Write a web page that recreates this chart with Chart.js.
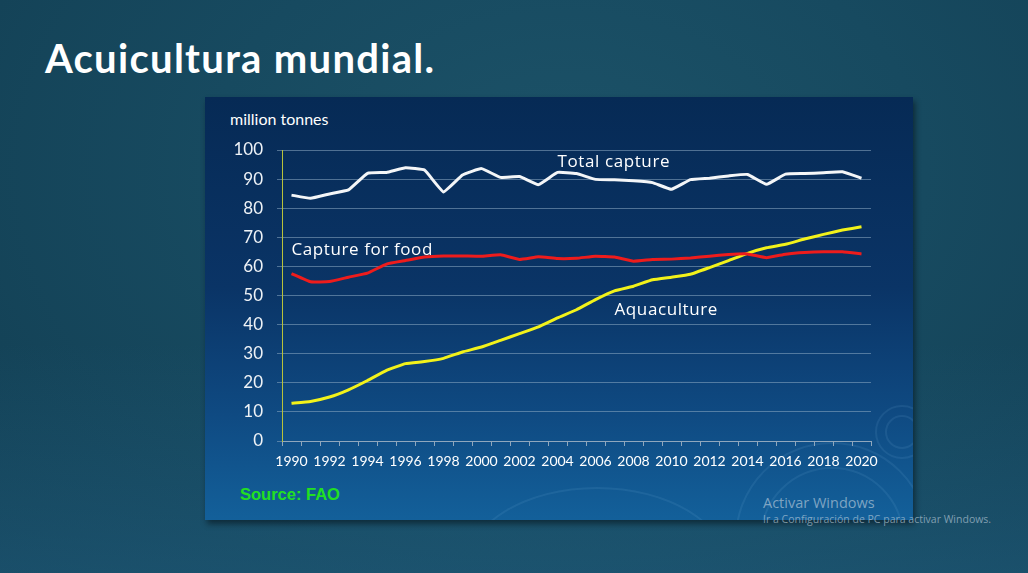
<!DOCTYPE html>
<html>
<head>
<meta charset="utf-8">
<script src="https://cdn.jsdelivr.net/npm/chart.js@4"></script>
<style>
  html, body { margin: 0; padding: 0; }
  body {
    width: 1028px; height: 573px; overflow: hidden; position: relative;
    background: radial-gradient(ellipse at 55% 30%, #1c5268 0%, #174a60 45%, #123e52 100%);
    font-family: Lato, "Open Sans", sans-serif;
  }
  #bottomglow {
    position: absolute; left: 0; top: 0; width: 1028px; height: 573px;
    background: linear-gradient(to bottom, rgba(0,0,0,0) 60%, rgba(40,110,150,0.35) 100%);
  }
  #title {
    position: absolute; left: 45px; top: 34px; margin: 0;
    color: #fff; font: bold 40px Lato, sans-serif; letter-spacing: 1.3px;
  }
  #panel {
    position: absolute; left: 205px; top: 97px; width: 708px; height: 423px;
    background: linear-gradient(to bottom, #062a55 0%, #0a3466 45%, #0f4a82 75%, #13609a 100%);
    box-shadow: 2px 4px 6px rgba(0,0,0,0.45);
    overflow: hidden;
  }
  .ring {
    position: absolute; border-radius: 50%;
    border: 2px solid rgba(120,180,220,0.12);
  }
  #unit {
    position: absolute; left: 230px; top: 109px; color: #fff;
    font: 16px Lato, sans-serif;
  }
  #source {
    position: absolute; left: 240px; top: 485px; color: #22e022;
    font: bold 16.5px "Liberation Sans", Arial, sans-serif;
  }
  #wm1 {
    position: absolute; left: 763px; top: 493px; color: rgba(200,215,225,0.6);
    font: 14.5px "Open Sans", sans-serif;
  }
  #wm2 {
    position: absolute; left: 763px; top: 512px; color: rgba(200,215,225,0.6);
    font: 10.5px "Open Sans", sans-serif;
  }
  canvas { position: absolute; left: 0; top: 0; }
</style>
</head>
<body>
<div id="bottomglow"></div>
<h1 id="title">Acuicultura mundial.</h1>
<div id="panel">
  <div class="ring" style="left:680px; top:318px; width:30px; height:30px;"></div>
  <div class="ring" style="left:670px; top:308px; width:50px; height:50px;"></div>
  <div class="ring" style="left:530px; top:345px; width:190px; height:190px;"></div>
  <div class="ring" style="left:555px; top:370px; width:140px; height:140px;"></div>
  <div class="ring" style="left:260px; top:390px; width:260px; height:160px;"></div>
</div>
<div id="unit">million tonnes</div>
<div id="source">Source: FAO</div>
<div id="wm1">Activar Windows</div>
<div id="wm2">Ir a Configuración de PC para activar Windows.</div>
<canvas id="chart" width="1028" height="573"></canvas>
<script>
const years = [];
for (let y = 1990; y <= 2020; y++) years.push(String(y));

const totalCapture = [84.5, 83.4, 84.9, 86.3, 92.0, 92.3, 93.9, 93.1, 85.6, 91.4,
  93.6, 90.6, 90.9, 88.1, 92.3, 91.9, 89.9, 89.8, 89.4, 88.8,
  86.5, 89.8, 90.3, 91.1, 91.6, 88.2, 91.7, 91.9, 92.2, 92.5, 90.3];

const captureForFood = [57.5, 54.7, 54.8, 56.3, 57.7, 60.8, 62.0, 63.2, 63.6, 63.6,
  63.5, 64.0, 62.4, 63.3, 62.7, 62.8, 63.5, 63.2, 61.8, 62.4,
  62.5, 62.9, 63.5, 64.1, 64.3, 63.0, 64.2, 64.8, 65.0, 65.0, 64.3];

const aquaculture = [13.0, 13.6, 15.1, 17.6, 20.8, 24.3, 26.6, 27.3, 28.4, 30.6,
  32.3, 34.6, 36.9, 39.2, 42.3, 45.1, 48.6, 51.6, 53.2, 55.4,
  56.3, 57.3, 59.6, 62.0, 64.5, 66.4, 67.6, 69.4, 71.0, 72.5, 73.6];

const yTicks = [0, 10, 20, 30, 40, 50, 60, 70, 80, 90, 100];

// series labels: text, anchor year (left edge), value (vertical centre)
const seriesLabels = [
  { text: 'Total capture', year: '2004', value: 95.8 },
  { text: 'Capture for food', year: '1990', value: 65.6 },
  { text: 'Aquaculture', year: '2007', value: 45.0 }
];

const labelPlugin = {
  id: 'seriesLabels',
  afterDatasetsDraw(chart) {
    const { ctx, scales } = chart;
    ctx.save();
    ctx.fillStyle = '#ffffff';
    ctx.font = '17px "Open Sans", sans-serif';
    ctx.textBaseline = 'middle';
    ctx.textAlign = 'left';
    if ('letterSpacing' in ctx) ctx.letterSpacing = '0.6px';
    seriesLabels.forEach(l => {
      const x = scales.x.getPixelForValue(years.indexOf(l.year));
      const y = scales.y.getPixelForValue(l.value);
      ctx.fillText(l.text, x, y);
    });
    ctx.restore();
  }
};

const ctx = document.getElementById('chart').getContext('2d');
new Chart(ctx, {
  type: 'line',
  data: {
    labels: years,
    datasets: [
      { label: 'Total capture', data: totalCapture, borderColor: '#f4f6f8', borderWidth: 3 },
      { label: 'Capture for food', data: captureForFood, borderColor: '#ee1c1c', borderWidth: 3 },
      { label: 'Aquaculture', data: aquaculture, borderColor: '#f2f21a', borderWidth: 3 }
    ]
  },
  options: {
    responsive: false,
    animation: false,
    elements: { point: { radius: 0 }, line: { tension: 0.1 } },
    layout: { padding: { left: 222, top: 150, right: 157, bottom: 102 } },
    plugins: { legend: { display: false }, tooltip: { enabled: false } },
    scales: {
      x: {
        offset: true,
        afterFit: (s) => { s.height = 30; },
        border: { color: '#8fa7bd', width: 1 },
        grid: {
          offset: true, drawOnChartArea: false, drawTicks: true,
          tickLength: 5, color: '#8fa7bd'
        },
        ticks: {
          autoSkip: false, maxRotation: 0, padding: 7,
          color: '#ffffff', font: { family: 'Lato', size: 14 },
          callback: (v, i) => (i % 2 === 0 ? years[i] : '')
        }
      },
      y: {
        min: 0, max: 100,
        afterFit: (s) => { s.width = 60; },
        afterBuildTicks: (s) => { s.ticks = yTicks.map(v => ({ value: v })); },
        border: { color: '#b8c23a', width: 1 },
        grid: { color: 'rgba(140,170,195,0.55)', tickLength: 5, lineWidth: 1 },
        ticks: { color: '#eef2f6', padding: 14, font: { family: 'Lato', size: 17 } }
      }
    }
  },
  plugins: [labelPlugin]
});
</script>
</body>
</html>
